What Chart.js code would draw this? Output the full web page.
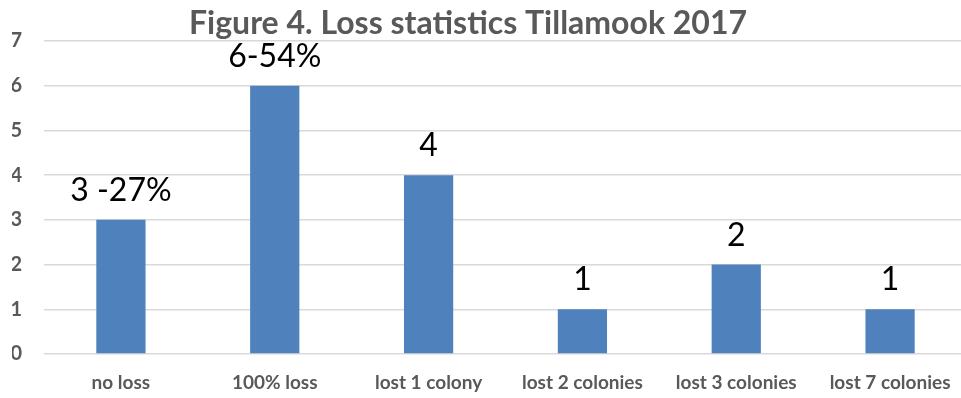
<!DOCTYPE html>
<html>
<head>
<meta charset="utf-8">
<script src="https://cdn.jsdelivr.net/npm/chart.js@4/dist/chart.umd.min.js"></script>
<style>
    html, body { margin: 0; padding: 0; background: #fff; overflow: hidden; }
    #wrap { width: 967px; height: 398px; position: relative; }
</style>
</head>
<body>
<div id="wrap"><canvas id="lossChart"></canvas></div>
<script>
// 類別與數值
const categories = ['no loss', '100% loss', 'lost 1 colony', 'lost 2 colonies', 'lost 3 colonies', 'lost 7 colonies'];
const counts = [3, 6, 4, 1, 2, 1];
const valueLabels = ['3 -27%', '6-54%', '4', '1', '2', '1'];
const yTicks = [0, 1, 2, 3, 4, 5, 6, 7];
const chartTitle = 'Figure 4. Loss statistics Tillamook 2017';

const TEXT_GRAY = '#595959';
const BAR_BLUE = '#4f81bd';

// 標題：壓在頂端格線上方，略偏左
const titlePlugin = {
    id: 'figureTitle',
    afterDraw(chart) {
        const ctx = chart.ctx;
        ctx.save();
        ctx.font = 'bold 32px Lato';
        ctx.fillStyle = TEXT_GRAY;
        ctx.textAlign = 'center';
        ctx.textBaseline = 'alphabetic';
        ctx.fillText(chartTitle, 468, 34);
        ctx.restore();
    }
};

// 在長條上方畫出數值標籤
const barLabelPlugin = {
    id: 'barLabels',
    afterDatasetsDraw(chart) {
        const ctx = chart.ctx;
        const meta = chart.getDatasetMeta(0);
        ctx.save();
        ctx.font = '32px Lato';
        ctx.fillStyle = '#000';
        ctx.textAlign = 'center';
        ctx.textBaseline = 'alphabetic';
        meta.data.forEach((bar, i) => {
            ctx.fillText(valueLabels[i], bar.x, bar.y - 19);
        });
        ctx.restore();
    }
};

new Chart(document.getElementById('lossChart'), {
    type: 'bar',
    data: {
        labels: categories,
        datasets: [{
            data: counts,
            backgroundColor: BAR_BLUE,
            barPercentage: 0.32,
            categoryPercentage: 1
        }]
    },
    options: {
        responsive: true,
        maintainAspectRatio: false,
        animation: false,
        layout: { padding: { left: 12, right: 0, top: 41, bottom: 0 } },
        plugins: {
            legend: { display: false },
            tooltip: { enabled: false },
            title: { display: false }
        },
        scales: {
            x: {
                grid: { display: false, drawTicks: false },
                border: { display: false },
                afterFit: (axis) => {
                    axis.paddingLeft = 0;
                    axis.paddingRight = 0;
                    axis.height = 44;
                },
                ticks: {
                    color: TEXT_GRAY,
                    font: { family: 'Lato', size: 19, weight: 'bold' },
                    padding: 17,
                    maxRotation: 0
                }
            },
            y: {
                min: 0,
                max: 7,
                afterBuildTicks: (axis) => {
                    axis.ticks = yTicks.map(v => ({ value: v }));
                },
                afterFit: (axis) => {
                    axis.width = 32;
                    axis.paddingTop = 0;
                    axis.paddingBottom = 0;
                },
                grid: { color: '#d9d9d9', lineWidth: 1.5, drawTicks: false },
                border: { display: false },
                ticks: {
                    color: TEXT_GRAY,
                    font: { family: 'Lato', size: 20, weight: 'bold' },
                    padding: 22
                }
            }
        }
    },
    plugins: [barLabelPlugin, titlePlugin]
});
</script>
</body>
</html>
